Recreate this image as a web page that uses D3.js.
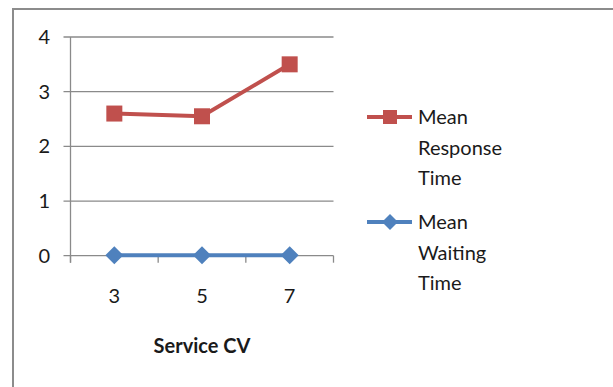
<!DOCTYPE html>
<html>
<head>
<meta charset="utf-8">
<script src="https://cdn.jsdelivr.net/npm/d3@7/dist/d3.min.js"></script>
<style>
  html, body { margin: 0; padding: 0; background: #fff; }
  svg { display: block; }
  text { font-family: Lato, "Open Sans", sans-serif; fill: #1a1a1a; }
</style>
</head>
<body>
<svg id="chart" width="613" height="387"></svg>
<script>
// Service CV categories and the two measured series
const categories = ["3", "5", "7"];
const responseTime = [2.6, 2.55, 3.5];
const waitingTime = [0.01, 0.01, 0.01];
const yTicks = [0, 1, 2, 3, 4];
const seriesNames = [["Mean", "Response", "Time"], ["Mean", "Waiting", "Time"]];

const svg = d3.select("#chart");
const fontSize = 20;

// chart frame
svg.append("rect")
  .attr("x", 13).attr("y", 9)
  .attr("width", 700).attr("height", 500)
  .attr("fill", "none").attr("stroke", "#8c8c8c").attr("stroke-width", 2);

const plotLeft = 70.5, plotRight = 333.5, plotTop = 37, plotBottom = 255.7;
const x = d3.scaleBand().domain(categories).range([plotLeft, plotRight]);
const y = d3.scaleLinear().domain([0, 4]).range([plotBottom, plotTop]);
const cx = c => x(c) + x.bandwidth() / 2;

// horizontal gridlines + y ticks
const yAxis = svg.append("g");
yTicks.forEach(t => {
  yAxis.append("line")
    .attr("x1", plotLeft - 7).attr("x2", plotRight)
    .attr("y1", y(t)).attr("y2", y(t))
    .attr("stroke", "#8a8a8a").attr("stroke-width", 1.3);
  yAxis.append("text")
    .attr("x", 50).attr("y", y(t)).attr("dy", "0.35em")
    .attr("text-anchor", "end").attr("font-size", fontSize)
    .text(t);
});
// vertical axis line
svg.append("line")
  .attr("x1", plotLeft).attr("x2", plotLeft).attr("y1", plotTop).attr("y2", plotBottom + 7)
  .attr("stroke", "#8a8a8a").attr("stroke-width", 1.3);

// category boundary ticks
const bounds = categories.map(c => x(c)).concat([plotRight]);
bounds.forEach(b => {
  svg.append("line")
    .attr("x1", b).attr("x2", b).attr("y1", plotBottom).attr("y2", plotBottom + 7)
    .attr("stroke", "#8a8a8a").attr("stroke-width", 1.3);
});
categories.forEach(c => {
  svg.append("text")
    .attr("x", cx(c)).attr("y", 296).attr("dy", "0.35em")
    .attr("text-anchor", "middle").attr("font-size", fontSize)
    .text(c);
});
svg.append("text")
  .attr("x", 202).attr("y", 346).attr("dy", "0.35em")
  .attr("text-anchor", "middle").attr("font-size", fontSize).attr("font-weight", "bold")
  .text("Service CV");

const red = "#C0504D", blue = "#4F81BD";
const line = d3.line().x((d, i) => cx(categories[i])).y(d => y(d));

// response series: squares
svg.append("path").datum(responseTime)
  .attr("d", line).attr("fill", "none").attr("stroke", red).attr("stroke-width", 4);
svg.selectAll(".sq").data(responseTime).join("rect")
  .attr("x", (d, i) => cx(categories[i]) - 8)
  .attr("y", d => y(d) - 8)
  .attr("width", 16).attr("height", 16)
  .attr("fill", red);

// waiting series: diamonds
const diamond = s => `M0,${-s}L${s},0L0,${s}L${-s},0Z`;
svg.append("path").datum(waitingTime)
  .attr("d", line).attr("fill", "none").attr("stroke", blue).attr("stroke-width", 4);
svg.selectAll(".dm").data(waitingTime).join("path")
  .attr("transform", (d, i) => `translate(${cx(categories[i])},${y(d)})`)
  .attr("d", diamond(9))
  .attr("fill", blue);

// legend
const legend = [
  { color: red, y: 117, marker: "square" },
  { color: blue, y: 222, marker: "diamond" }
];
legend.forEach((L, k) => {
  const g = svg.append("g");
  g.append("line")
    .attr("x1", 367).attr("x2", 412).attr("y1", L.y).attr("y2", L.y)
    .attr("stroke", L.color).attr("stroke-width", 4);
  if (L.marker === "square") {
    g.append("rect").attr("x", 383).attr("y", L.y - 7).attr("width", 14).attr("height", 14).attr("fill", L.color);
  } else {
    g.append("path").attr("transform", `translate(390,${L.y})`).attr("d", diamond(8)).attr("fill", L.color);
  }
  seriesNames[k].forEach((s, j) => {
    g.append("text")
      .attr("x", 418).attr("y", L.y + j * 30.7).attr("dy", "0.35em")
      .attr("font-size", fontSize).text(s);
  });
});
</script>
</body>
</html>
